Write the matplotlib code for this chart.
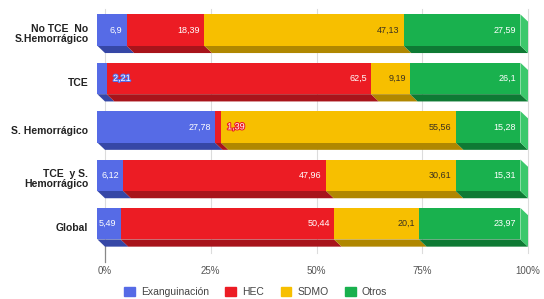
import numpy as np
import matplotlib.pyplot as plt
from matplotlib.patches import Polygon, Patch
import matplotlib.patheffects as pe

plt.rcParams['font.family'] = ['Liberation Sans', 'DejaVu Sans']

categories = ["No TCE  No\nS.Hemorrágico", "TCE", "S. Hemorrágico",
              "TCE  y S.\nHemorrágico", "Global"]
series = ["Exanguinación", "HEC", "SDMO", "Otros"]
exang = [6.9, 2.21, 27.78, 6.12, 5.49]
hec = [18.39, 62.5, 1.39, 47.96, 50.44]
sdmo = [47.13, 9.19, 55.56, 30.61, 20.1]
otros = [27.59, 26.1, 15.28, 15.31, 23.97]
xticks = [0, 25, 50, 75, 100]
xticklabels = ["0%", "25%", "50%", "75%", "100%"]

front = ["#566be6", "#ec1c24", "#f7bf00", "#19b14e"]
dark = ["#3647a6", "#a8141b", "#b08700", "#0e7a34"]
side = "#3cc86c"
txtcol = ["white", "white", "#3a3020", "white"]

W, H = 544, 299
fig = plt.figure(figsize=(W / 100, H / 100), dpi=100)
ax = fig.add_axes([105 / W, 1 - 251 / H, 423 / W, 242 / H])
ax.set_xlim(0, 100)
ax.set_ylim(4.5, -0.5)

dx, dy = 1.8, 0.15      # depth of the fake 3d extrusion
top, bot = -0.39, 0.26  # front face relative to row centre

for x in xticks:
    ax.plot([x, x], [-0.5, 4.5 + 0.05], color="#dcdcdc", lw=0.8,
            zorder=0, clip_on=False)
ax.plot([0, 0], [4.3, 4.72], color="#888888", lw=0.9, clip_on=False, zorder=0)

data = np.array([exang, hec, sdmo, otros])
for i in range(len(categories)):
    left = 0
    ft, fb = i + top, i + bot
    for j in range(len(series)):
        v = data[j, i]
        r = left + v
        # bottom face
        ax.add_patch(Polygon([(left - dx, fb), (r - dx, fb), (r, fb + dy),
                              (left, fb + dy)], closed=True, color=dark[j],
                             lw=0, clip_on=False, zorder=2))
        # front face
        ax.add_patch(Polygon([(left - dx, ft), (r - dx, ft), (r - dx, fb),
                              (left - dx, fb)], closed=True, color=front[j],
                             lw=0, clip_on=False, zorder=3))
        lab = ("%g" % v).replace(".", ",")
        if v > 4:
            ax.text(r - dx - 1, (ft + fb) / 2, lab, ha="right", va="center",
                    fontsize=6.5, color=txtcol[j], zorder=5)
        else:
            ax.text(r - dx + 1.5, (ft + fb) / 2, lab, ha="left", va="center",
                    fontsize=6.5, color="white", zorder=5,
                    path_effects=[pe.withStroke(linewidth=1.5,
                                                foreground=front[j])])
        left = r
    # right side face
    ax.add_patch(Polygon([(100 - dx, ft), (100, ft + dy), (100, fb + dy),
                          (100 - dx, fb)], closed=True, color=side, lw=0,
                         clip_on=False, zorder=2))

ax.set_yticks(range(len(categories)))
ax.set_yticklabels(categories, fontsize=7.5, fontweight="bold", color="#222222",
                   linespacing=0.95)
ax.set_xticks(xticks)
ax.set_xticklabels(xticklabels, fontsize=7, color="#555555")
ax.tick_params(length=0)
ax.tick_params(axis="y", pad=12)
ax.tick_params(axis="x", pad=11)
for s in ax.spines.values():
    s.set_visible(False)

handles = [Patch(color=c) for c in front]
fig.legend(handles, series, loc="lower center", bbox_to_anchor=(0.47, -0.025),
           ncol=4, frameon=False, fontsize=7.5, handlelength=1.0,
           handleheight=1.0, columnspacing=1.6, handletextpad=0.6,
           labelcolor="#444444")

fig.savefig("out.png", dpi=100)
